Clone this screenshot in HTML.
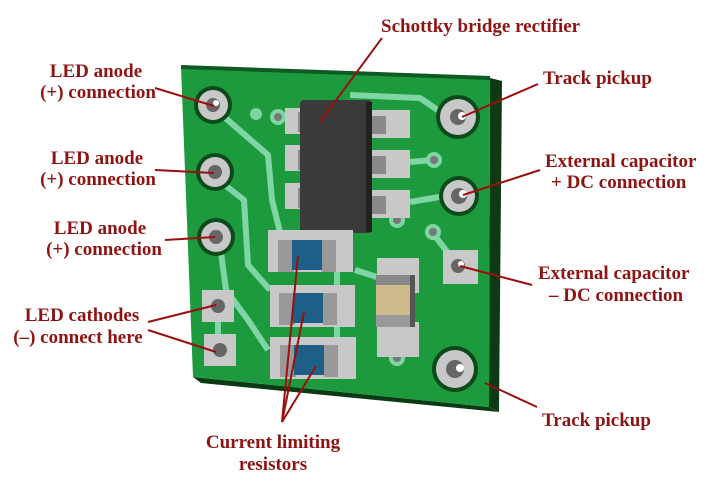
<!DOCTYPE html>
<html><head><meta charset="utf-8"><style>
html,body{margin:0;padding:0;background:#fff;}
svg{display:block}
text{font-family:"Liberation Serif",serif;font-weight:bold;font-size:19px;fill:#8e1414}
</style></head><body>
<svg width="712" height="477" viewBox="0 0 712 477" xmlns="http://www.w3.org/2000/svg">
<polygon points="490,78 502,81 499,412 489,407" fill="#0c3a14"/>
<polygon points="193,377 489,407 499,412 201,383" fill="#0c3a14"/>
<polygon points="181,67 490,78 489,407 193,377" fill="#1e9a3e"/>
<polygon points="181,65 490,76 490,80 181,69" fill="#0f5a22"/>
<g fill="none" stroke="#7fd6a4" stroke-width="6" stroke-linejoin="round">
<path d="M222,115 L268,155 L272,200 L282,240"/>
<path d="M221,182 L244,200 L248,265 L270,290"/>
<path d="M220,245 L226,290 L248,320 L268,350"/>
<path d="M350,95 L420,98 L445,115"/>
<path d="M410,162 L432,160"/>
<path d="M410,202 L445,196"/>
<path d="M432,232 L455,262"/>
<path d="M355,270 L380,278"/>
<path d="M337,270 L337,350"/>
<path d="M218,320 L218,345"/>
<path d="M324,230 L324,240"/>
</g>
<circle cx="256" cy="114" r="6" fill="#7fd6a4"/>
<circle cx="278" cy="117" r="8" fill="#7fd6a4"/><circle cx="278" cy="117" r="4" fill="#777"/>
<circle cx="434" cy="160" r="8" fill="#7fd6a4"/><circle cx="434" cy="160" r="4" fill="#777"/>
<circle cx="397" cy="220" r="8" fill="#7fd6a4"/><circle cx="397" cy="220" r="4" fill="#777"/>
<circle cx="433" cy="232" r="8" fill="#7fd6a4"/><circle cx="433" cy="232" r="4" fill="#777"/>
<circle cx="397" cy="358" r="8" fill="#7fd6a4"/><circle cx="397" cy="358" r="4" fill="#777"/>
<g>
<circle cx="213" cy="105" r="19" fill="#0c4a1a"/><circle cx="213" cy="105" r="15" fill="#c8c8c8"/><circle cx="213" cy="105" r="7" fill="#666"/><circle cx="216" cy="103" r="3" fill="#fff"/>
<circle cx="215" cy="172" r="19" fill="#0c4a1a"/><circle cx="215" cy="172" r="15" fill="#c8c8c8"/><circle cx="215" cy="172" r="7" fill="#666"/>
<circle cx="216" cy="237" r="19" fill="#0c4a1a"/><circle cx="216" cy="237" r="15" fill="#c8c8c8"/><circle cx="216" cy="237" r="7" fill="#666"/>
<circle cx="458" cy="117" r="22" fill="#0c4a1a"/><circle cx="458" cy="117" r="18" fill="#c8c8c8"/><circle cx="458" cy="117" r="8" fill="#666"/><circle cx="462" cy="116" r="4" fill="#fff"/>
<circle cx="459" cy="196" r="20" fill="#0c4a1a"/><circle cx="459" cy="196" r="16" fill="#c8c8c8"/><circle cx="459" cy="196" r="8" fill="#666"/><circle cx="463" cy="194" r="4" fill="#fff"/>
<circle cx="455" cy="369" r="23" fill="#0c4a1a"/><circle cx="455" cy="369" r="19" fill="#c8c8c8"/><circle cx="455" cy="369" r="9" fill="#666"/><circle cx="460" cy="368" r="4" fill="#fff"/>
</g>
<rect x="202" y="290" width="32" height="32" fill="#c8c8c8"/><circle cx="218" cy="306" r="7" fill="#666"/>
<rect x="204" y="334" width="32" height="32" fill="#c8c8c8"/><circle cx="220" cy="350" r="7" fill="#666"/>
<rect x="443" y="250" width="35" height="34" fill="#c8c8c8"/><circle cx="458" cy="266" r="7" fill="#666"/><circle cx="461" cy="264" r="3" fill="#fff"/>
<g fill="#c8c8c8">
<rect x="285" y="108" width="22" height="26"/><rect x="285" y="145" width="22" height="26"/><rect x="285" y="183" width="22" height="26"/>
<rect x="370" y="110" width="40" height="28"/><rect x="370" y="150" width="40" height="28"/><rect x="370" y="190" width="40" height="28"/>
</g>
<g fill="#8a8a8a"><rect x="298" y="112" width="8" height="20"/><rect x="298" y="150" width="8" height="20"/><rect x="298" y="188" width="8" height="20"/>
<rect x="372" y="116" width="14" height="18"/><rect x="372" y="156" width="14" height="18"/><rect x="372" y="196" width="14" height="18"/></g>
<rect x="300" y="100" width="72" height="133" rx="4" fill="#3a3a3a"/>
<rect x="366" y="102" width="6" height="130" fill="#222"/>
<g>
<rect x="268" y="230" width="85" height="42" fill="#c8c8c8"/>
<rect x="270" y="285" width="85" height="42" fill="#c8c8c8"/>
<rect x="270" y="337" width="86" height="42" fill="#c8c8c8"/>
<rect x="278" y="240" width="16" height="32" fill="#999"/><rect x="292" y="240" width="32" height="30" fill="#1e5f87"/><rect x="322" y="240" width="14" height="32" fill="#999"/>
<rect x="279" y="293" width="16" height="32" fill="#999"/><rect x="293" y="293" width="32" height="30" fill="#1e5f87"/><rect x="323" y="293" width="14" height="32" fill="#999"/>
<rect x="280" y="345" width="16" height="32" fill="#999"/><rect x="294" y="345" width="32" height="30" fill="#1e5f87"/><rect x="324" y="345" width="14" height="32" fill="#999"/>
</g>
<rect x="377" y="258" width="42" height="35" fill="#c8c8c8"/>
<rect x="377" y="322" width="42" height="35" fill="#c8c8c8"/>
<rect x="376" y="275" width="36" height="12" fill="#888"/>
<rect x="376" y="285" width="36" height="32" fill="#cdb98a"/>
<rect x="376" y="315" width="36" height="12" fill="#999"/>
<rect x="410" y="275" width="5" height="52" fill="#555"/>
<g stroke="#9a1010" stroke-width="2" fill="none">
<line x1="382" y1="38" x2="320" y2="122"/>
<line x1="155" y1="88" x2="214" y2="106"/>
<line x1="155" y1="170" x2="214" y2="173"/>
<line x1="165" y1="240" x2="215" y2="237"/>
<line x1="148" y1="322" x2="216" y2="305"/>
<line x1="148" y1="330" x2="216" y2="352"/>
<line x1="538" y1="84" x2="462" y2="117"/>
<line x1="540" y1="170" x2="463" y2="195"/>
<line x1="532" y1="285" x2="460" y2="266"/>
<line x1="537" y1="407" x2="485" y2="383"/>
<line x1="282" y1="422" x2="298" y2="256"/>
<line x1="282" y1="422" x2="304" y2="312"/>
<line x1="282" y1="422" x2="316" y2="366"/>
</g>
<text x="381" y="32">Schottky bridge rectifier</text>
<text x="96" y="77" text-anchor="middle">LED anode</text>
<text x="98" y="98" text-anchor="middle">(+) connection</text>
<text x="97" y="164" text-anchor="middle">LED anode</text>
<text x="98" y="185" text-anchor="middle">(+) connection</text>
<text x="100" y="234" text-anchor="middle">LED anode</text>
<text x="104" y="255" text-anchor="middle">(+) connection</text>
<text x="82" y="321" text-anchor="middle">LED cathodes</text>
<text x="78" y="343" text-anchor="middle">(–) connect here</text>
<text x="543" y="84">Track pickup</text>
<text x="545" y="167">External capacitor</text>
<text x="551" y="188">+ DC connection</text>
<text x="538" y="279">External capacitor</text>
<text x="549" y="301">– DC connection</text>
<text x="542" y="426">Track pickup</text>
<text x="273" y="448" text-anchor="middle">Current limiting</text>
<text x="273" y="470" text-anchor="middle">resistors</text>
</svg>
</body></html>
